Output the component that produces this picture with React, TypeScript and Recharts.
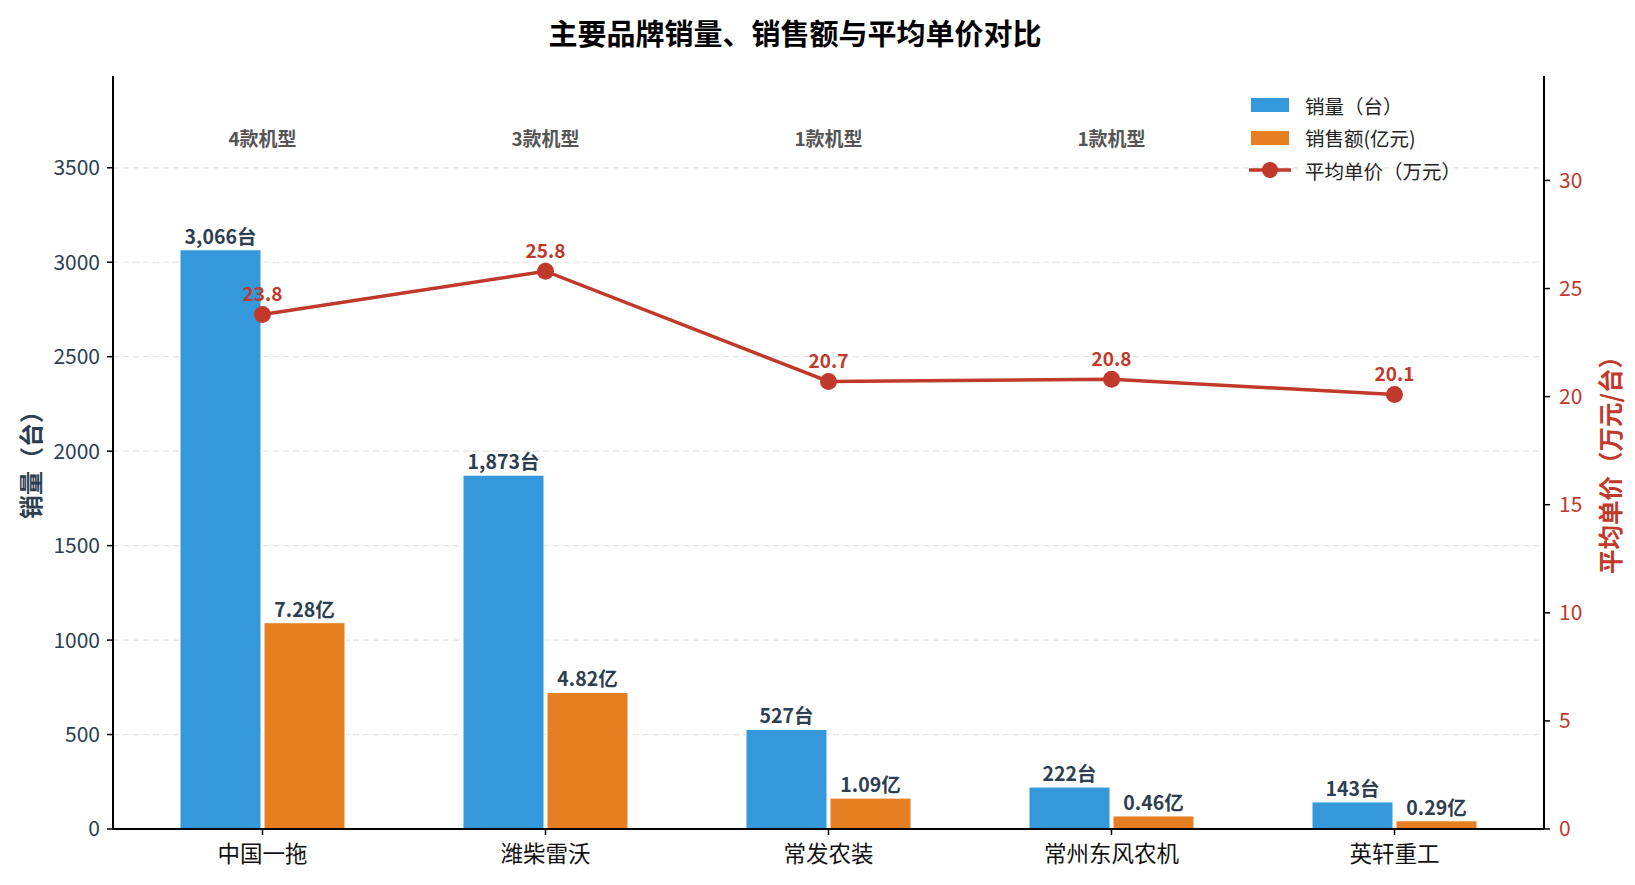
import {
  Bar,
  CartesianGrid,
  ComposedChart,
  LabelList,
  Legend,
  Line,
  ReferenceDot,
  XAxis,
  YAxis,
} from "recharts"

const brands = ["中国一拖", "潍柴雷沃", "常发农装", "常州东风农机", "英轩重工"]
const volume = [3066, 1873, 527, 222, 143] // 台
const sales = [7.28, 4.82, 1.09, 0.46, 0.29] // 亿元
const avgPrice = [23.8, 25.8, 20.7, 20.8, 20.1] // 万元/台
const models = [4, 3, 1, 1, null]

const leftTicks = [0, 500, 1000, 1500, 2000, 2500, 3000, 3500]
const rightTicks = [0, 5, 10, 15, 20, 25, 30]

const BLUE = "#3498db"
const ORANGE = "#e67e22"
const RED = "#c0392b"
const NAVY = "#2c3e50"
const FONT = "'Noto Sans CJK SC', 'Noto Sans', sans-serif"

// 销售额按 150 倍缩放画在左轴上
const SALES_SCALE = 150

const data = brands.map((name, i) => ({
  name,
  volume: volume[i],
  salesBar: sales[i] * SALES_SCALE,
  sales: sales[i],
  price: avgPrice[i],
}))

// 只在左轴刻度处画网格线
const gridFromTicks = (props: any) => {
  const s = props?.yAxis?.scale
  if (!s) return []
  const f =
    typeof s === "function"
      ? (v: number) => s(v)
      : typeof s.map === "function"
      ? (v: number) => s.map(v)
      : typeof s.apply === "function"
      ? (v: number) => s.apply(v)
      : null
  if (!f) return []
  return leftTicks.map((t) => f(t)).filter((y) => typeof y === "number" && !isNaN(y))
}

const renderLegend = () => {
  const items = [
    { label: "销量（台）", type: "rect", color: BLUE },
    { label: "销售额(亿元)", type: "rect", color: ORANGE },
    { label: "平均单价（万元）", type: "line", color: RED },
  ]
  return (
    <div style={{ fontFamily: FONT }}>
      {items.map((it) => (
        <div
          key={it.label}
          style={{ display: "flex", alignItems: "center", height: 32.5 }}
        >
          <svg width={44} height={20}>
            {it.type === "rect" ? (
              <rect x={3} y={3} width={38} height={14} fill={it.color} />
            ) : (
              <g>
                <line x1={1} y1={10} x2={43} y2={10} stroke={it.color} strokeWidth={3.5} />
                <circle cx={22} cy={10} r={8} fill={it.color} />
              </g>
            )}
          </svg>
          <span style={{ marginLeft: 13, fontSize: 19.5, color: "#222" }}>{it.label}</span>
        </div>
      ))}
    </div>
  )
}

export default function App() {
  return (
    <div
      style={{
        position: "absolute",
        left: 0,
        top: 0,
        width: 1635,
        height: 885,
        background: "#fff",
        fontFamily: FONT,
      }}
    >
      <div
        style={{
          position: "absolute",
          left: 0,
          width: 1590,
          top: 11,
          textAlign: "center",
          fontSize: 29,
          fontWeight: "bold",
          color: "#000",
          zIndex: 2,
        }}
      >
        主要品牌销量、销售额与平均单价对比
      </div>
      <ComposedChart
        width={1635}
        height={885}
        data={data}
        margin={{ top: 76, right: 0, bottom: 0, left: 0 }}
        barSize={81}
        barGap={3}
      >
        <CartesianGrid
          yAxisId="left"
          vertical={false}
          stroke="#e3e3e3"
          strokeDasharray="6 4"
          strokeWidth={1.2}
          horizontalCoordinatesGenerator={gridFromTicks}
        />
        <XAxis
          dataKey="name"
          height={56}
          padding={{ left: 8, right: 8 }}
          tick={{ fill: "#111", fontSize: 22.5, dy: 9 }}
          tickLine={{ stroke: "#000", strokeWidth: 1.5 }}
          axisLine={{ stroke: "#000", strokeWidth: 2 }}
          tickSize={6}
          interval={0}
        />
        <YAxis
          yAxisId="left"
          width={113}
          domain={[0, Math.max(...volume) * 1.3]}
          ticks={leftTicks}
          tick={{ fill: NAVY, fontSize: 21 }}
          tickLine={{ stroke: "#000", strokeWidth: 1.5 }}
          axisLine={{ stroke: "#000", strokeWidth: 2 }}
          tickSize={6}
          tickMargin={7}
          label={() => (
            <text
              x={29}
              y={459}
              transform="rotate(-90, 29, 459)"
              textAnchor="middle"
              dominantBaseline="central"
              fill={NAVY}
              fontSize={24}
              fontWeight="bold"
            >
              销量（台）
            </text>
          )}
        />
        <YAxis
          yAxisId="right"
          orientation="right"
          width={91}
          domain={[0, Math.max(...avgPrice) * 1.35]}
          ticks={rightTicks}
          tick={{ fill: RED, fontSize: 21 }}
          tickLine={{ stroke: "#000", strokeWidth: 1.5 }}
          axisLine={{ stroke: "#000", strokeWidth: 2 }}
          tickSize={6}
          tickMargin={9}
          label={() => (
            <text
              x={1609}
              y={459}
              transform="rotate(-90, 1609, 459)"
              textAnchor="middle"
              dominantBaseline="central"
              fill={RED}
              fontSize={24.5}
              fontWeight="bold"
            >
              平均单价（万元/台）
            </text>
          )}
        />
        <Legend
          layout="vertical"
          verticalAlign="middle"
          align="center"
          content={renderLegend}
          wrapperStyle={{ left: 1248, top: 89, width: 280 }}
        />
        <Bar
          yAxisId="left"
          dataKey="volume"
          fill={BLUE}
          stroke="#fff"
          strokeWidth={1}
          isAnimationActive={false}
        >
          <LabelList
            dataKey="volume"
            position="top"
            offset={6}
            formatter={(v: any) => `${Number(v).toLocaleString("en-US")}台`}
            style={{ fill: NAVY, fontSize: 19.5, fontWeight: "bold" }}
          />
        </Bar>
        <Bar
          yAxisId="left"
          dataKey="salesBar"
          fill={ORANGE}
          stroke="#fff"
          strokeWidth={1}
          isAnimationActive={false}
        >
          <LabelList
            dataKey="sales"
            position="top"
            offset={6}
            formatter={(v: any) => `${Number(v).toFixed(2)}亿`}
            style={{ fill: NAVY, fontSize: 19.5, fontWeight: "bold" }}
          />
        </Bar>
        <Line
          yAxisId="right"
          type="linear"
          dataKey="price"
          stroke={RED}
          strokeWidth={3.5}
          dot={{ r: 8.5, fill: RED, stroke: RED, strokeWidth: 0 }}
          activeDot={false}
          isAnimationActive={false}
        >
          <LabelList
            dataKey="price"
            position="top"
            offset={13}
            formatter={(v: any) => Number(v).toFixed(1)}
            style={{ fill: RED, fontSize: 19, fontWeight: "bold" }}
          />
        </Line>
        {brands.map((b, i) =>
          models[i] == null ? null : (
            <ReferenceDot
              key={b}
              yAxisId="left"
              x={b}
              y={3650}
              r={1}
              fill="none"
              stroke="none"
              label={{
                value: `${models[i]}款机型`,
                position: "center",
                fill: "#555",
                fontSize: 19,
                fontWeight: "bold",
              }}
            />
          )
        )}
      </ComposedChart>
    </div>
  )
}
